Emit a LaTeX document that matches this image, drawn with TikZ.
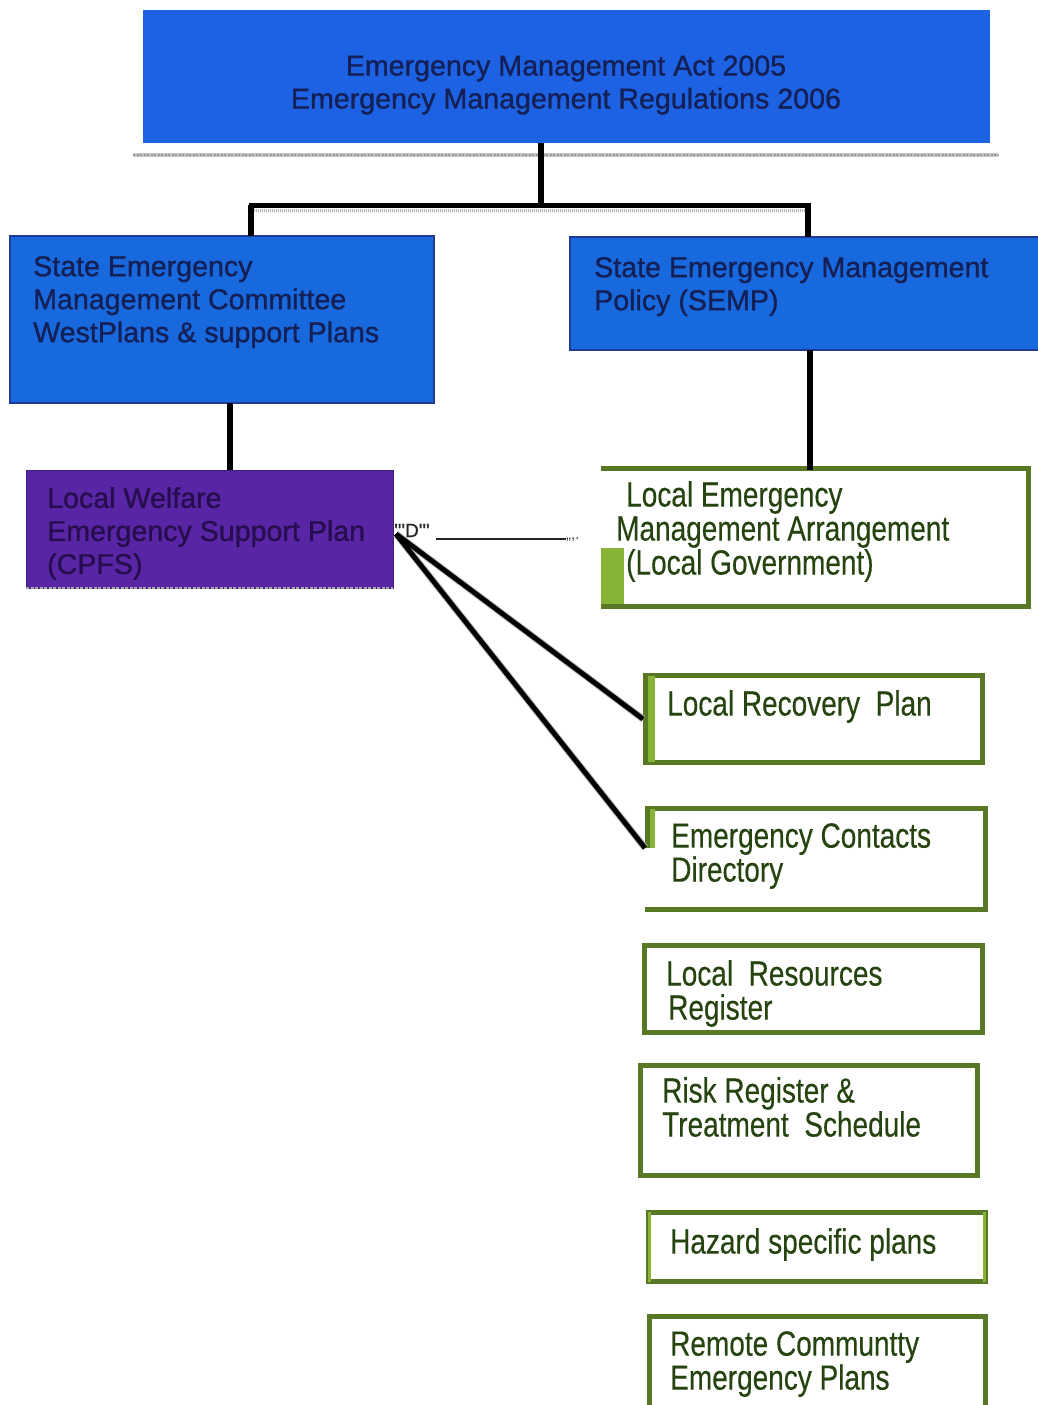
\documentclass[tikz,border=0pt]{standalone}
\usepackage{fontspec}
\setmainfont{Liberation Sans}
\newfontfamily\narrowfont[FakeStretch=0.8,FakeBold=0.3]{Liberation Sans}
\newfontfamily\heavyfont[FakeBold=1.0]{Liberation Sans}
\definecolor{topblue}{RGB}{30,98,228}
\definecolor{sideblue}{RGB}{24,104,222}
\definecolor{blueedge}{RGB}{30,60,150}
\definecolor{bluetext}{RGB}{20,32,85}
\definecolor{purplefill}{RGB}{88,38,165}
\definecolor{purpleedge}{RGB}{60,30,130}
\definecolor{purpletext}{RGB}{38,14,78}
\definecolor{greenline}{RGB}{88,120,38}
\definecolor{greenlight}{RGB}{135,180,55}
\definecolor{greentext}{RGB}{38,68,16}
\tikzset{
  boxarea/.style={rectangle, inner sep=0pt, outer sep=0pt, anchor=north west},
  bluebox/.style={boxarea, fill=sideblue, draw=blueedge, line width=1.5pt},
  purplebox/.style={boxarea, fill=purplefill, draw=purpleedge, line width=1pt},
  btxt/.style={inner sep=0pt, anchor=north west, align=left, text=bluetext,
    font=\heavyfont\fontsize{28.6}{33}\selectfont},
  gtxt/.style={inner sep=0pt, anchor=north west, align=left, text=greentext,
    font=\narrowfont\fontsize{35}{34}\selectfont},
  gedge/.style={draw=greenline, line width=5.5pt},
  conn/.style={draw=black, line width=5.5pt},
  diagline/.style={draw=black, line width=5pt},
  thinconn/.style={draw=black!85, line width=1.8pt},
}
\begin{document}
\begin{tikzpicture}[x=1pt,y=-1pt]
\useasboundingbox (0,0) rectangle (1038,1405);
\fill[white] (0,0) rectangle (1038,1405);

% ---------- top box ----------
\node[boxarea, fill=topblue, minimum width=847pt, minimum height=133pt] (act) at (143,10) {};
\node[inner sep=0pt, align=center, text=bluetext, font=\heavyfont\fontsize{28.6}{33}\selectfont] (acttxt) at (566,85)
  {Emergency Management Act 2005\\Emergency Management Regulations 2006};
\draw[gray!45, line width=4pt] (133,155) -- (998,155);
\draw[gray!80, line width=2pt, dash pattern=on 2pt off 1.5pt] (133,155) -- (998,155);

% ---------- bus ----------
\coordinate (busM) at (541,205);
\coordinate (busL) at (251,205);
\coordinate (busR) at (808,205);
\draw[conn] (busM |- act.south) -- (busM);
\draw[black, line width=5pt] ([xshift=-2.5pt]busL) -- ([xshift=2.5pt]busR);
\draw[gray!60, line width=3pt, dash pattern=on 1pt off 1pt] ([xshift=3pt,yshift=-5pt]busL) -- ([xshift=-3pt,yshift=-5pt]busR);

% ---------- second level ----------
\node[bluebox, minimum width=424pt, minimum height=167pt] (semc) at (10,236) {};
\node[btxt] (semctxt) at (33,256) {State Emergency\\Management Committee\\WestPlans \& support Plans};
\node[bluebox, minimum width=480pt, minimum height=113pt] (semp) at (570,237) {};
\node[btxt] (semptxt) at (594,257) {State Emergency Management\\Policy (SEMP)};
\draw[conn] (busL) -- (busL |- semc.north);
\draw[conn] (busR) -- (busR |- semp.north);

% ---------- welfare plan ----------
\node[purplebox, minimum width=367pt, minimum height=118pt] (welf) at (26,470) {};
\draw[gray!70, line width=2.5pt, dash pattern=on 3pt off 1.5pt] (welf.south west) -- (welf.south east);
\node[btxt, text=purpletext] (welftxt) at (47,487) {Local Welfare\\Emergency Support Plan\\(CPFS)};
\draw[conn] ([xshift=8pt]semc.south) -- ([xshift=8pt]semc.south |- welf.north);

% ---------- LEMA ----------
\node[boxarea, minimum width=430pt, minimum height=143pt] (lema) at (601,466) {};
\fill[greenlight] (601,548) rectangle (624,609);
\draw[gedge] ([yshift=-2.5pt]lema.north west) -- ([xshift=-2.5pt,yshift=-2.5pt]lema.north east)
  -- ([xshift=-2.5pt,yshift=2.5pt]lema.south east) -- ([yshift=2.5pt]lema.south west);
\node[gtxt] (lematxt) at (616,481) {\hspace{10pt}Local Emergency\\Management Arrangement\\\hspace{10pt}(Local Government)};
\draw[conn] (semp.south) -- ([yshift=-4pt]semp.south |- lema.north);

% ---------- hub connectors ----------
\coordinate (hub) at (396,534);
\coordinate (lemaend) at (566,539);
\draw[thinconn] (436,539) -- (lemaend);
\node[inner sep=0pt, anchor=base west, font=\heavyfont\fontsize{19}{19}\selectfont, text=black!85] (hubmark) at (394,537) {'''D'''};
\node[inner sep=0pt, anchor=base west, font=\fontsize{15}{15}\selectfont, text=black!75] (endmark) at (lemaend) {,,,.};

% ---------- green boxes ----------
\node[boxarea, minimum width=342pt, minimum height=92pt] (lrp) at (643,673) {};
\node[boxarea, minimum width=343pt, minimum height=106pt] (ec) at (645,806) {};
\node[boxarea, minimum width=343pt, minimum height=92pt] (lrr) at (642,943) {};
\node[boxarea, minimum width=342pt, minimum height=115pt] (rr) at (638,1063) {};
\node[boxarea, minimum width=342pt, minimum height=74pt] (hz) at (646,1210) {};
\node[boxarea, minimum width=341pt, minimum height=120pt] (rc) at (647,1314) {};

\draw[gedge] ([xshift=2.5pt,yshift=-2.5pt]lrp.north west) rectangle ([xshift=-2.5pt,yshift=2.5pt]lrp.south east);
\fill[greenlight] (648,676) rectangle (655,762);

\draw[gedge] ([xshift=2.5pt]ec.north west) -- ([xshift=2.5pt,yshift=-2.5pt]ec.north west)
  -- ([xshift=-2.5pt,yshift=-2.5pt]ec.north east) -- ([xshift=-2.5pt,yshift=2.5pt]ec.south east)
  -- ([yshift=2.5pt]ec.south west);
\draw[gedge] ([xshift=2.5pt]ec.north west) -- (647.5,848);
\fill[greenlight] (650,809) rectangle (655,848);

\draw[gedge] ([xshift=2.5pt,yshift=-2.5pt]lrr.north west) rectangle ([xshift=-2.5pt,yshift=2.5pt]lrr.south east);
\draw[gedge] ([xshift=2.5pt,yshift=-2.5pt]rr.north west) rectangle ([xshift=-2.5pt,yshift=2.5pt]rr.south east);
\draw[gedge] ([xshift=2.5pt,yshift=-2.5pt]hz.north west) rectangle ([xshift=-2.5pt,yshift=2.5pt]hz.south east);
\fill[greenlight] (648,1212) rectangle (651,1282);
\fill[greenlight] (983,1212) rectangle (986,1282);
\draw[gedge] ([xshift=2.5pt,yshift=-2.5pt]rc.north west) rectangle ([xshift=-2.5pt,yshift=2.5pt]rc.south east);

\node[gtxt] (lrptxt) at (667,690) {Local Recovery~ Plan};
\node[gtxt] (ectxt) at (671,823) {Emergency Contacts\\Directory};
\node[gtxt] (lrrtxt) at (666,960) {Local~ Resources\\\hspace{2pt}Register};
\node[gtxt] (rrtxt) at (662,1077) {Risk Register \&\\Treatment~ Schedule};
\node[gtxt] (hztxt) at (670,1228) {Hazard specific plans};
\node[gtxt] (rctxt) at (670,1331) {Remote Communtty\\Emergency Plans};

% diagonal connectors
\draw[gray!50, line width=7pt] (hub) -- (lrp.west);
\draw[gray!50, line width=7pt] (hub) -- ([yshift=11pt]ec.west);
\draw[diagline] (hub) -- (lrp.west);
\draw[diagline] (hub) -- ([yshift=11pt]ec.west);
\end{tikzpicture}
\end{document}
